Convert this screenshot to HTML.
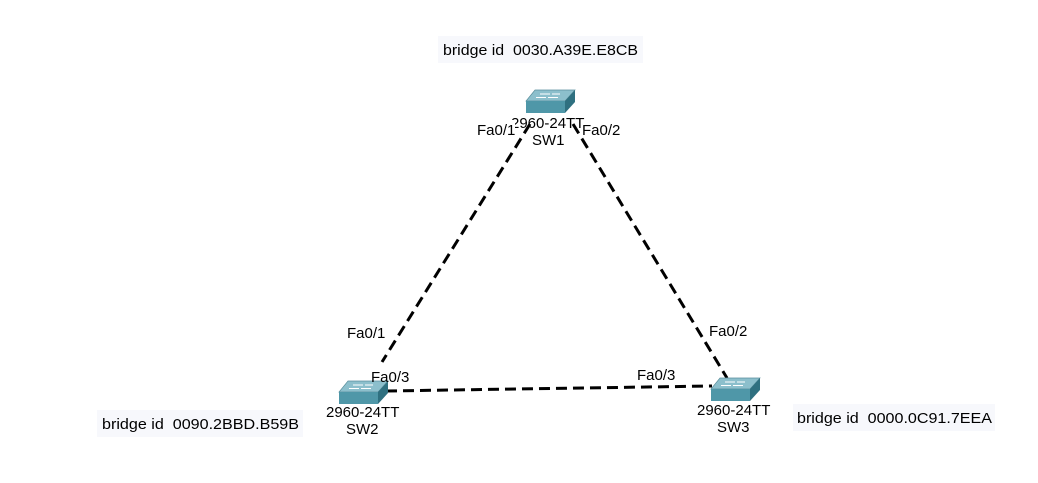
<!DOCTYPE html>
<html><head><meta charset="utf-8"><style>
html,body{margin:0;padding:0;background:#fff;width:1038px;height:483px;overflow:hidden}
svg text{font-family:"Liberation Sans",Arial,sans-serif;font-size:15px;fill:#000;white-space:pre}
</style></head><body>
<svg width="1038" height="483" viewBox="0 0 1038 483" xmlns="http://www.w3.org/2000/svg">
<defs>
<g id="sw">
  <polygon points="9,0 49,0 39,11 0,11" fill="#8cbfcc" stroke="#5a8f9c" stroke-width="0.7"/>
  <polygon points="0,11 39,11 39,23 0,23" fill="#4f97a8"/>
  <polygon points="39,11 49,0 49,12 39,23" fill="#2f7080"/>
  <line x1="14" y1="4" x2="24" y2="4" stroke="#fff" stroke-width="1"/>
  <line x1="26" y1="4" x2="34" y2="4" stroke="#fff" stroke-width="1"/>
  <line x1="10" y1="7.5" x2="20" y2="7.5" stroke="#fff" stroke-width="1"/>
  <line x1="22" y1="7.5" x2="32" y2="7.5" stroke="#fff" stroke-width="1"/>
</g>
</defs>
<rect x="438" y="36" width="205" height="27" fill="#f7f8fc"/>
<text x="443" y="55" textLength="195" lengthAdjust="spacingAndGlyphs">bridge id  0030.A39E.E8CB</text>
<rect x="97" y="410" width="206" height="27" fill="#f7f8fc"/>
<text x="102" y="429" textLength="197" lengthAdjust="spacingAndGlyphs">bridge id  0090.2BBD.B59B</text>
<rect x="793" y="404" width="202" height="27" fill="#f7f8fc"/>
<text x="797" y="423" textLength="195" lengthAdjust="spacingAndGlyphs">bridge id  0000.0C91.7EEA</text>
<g stroke="#000" stroke-width="3" stroke-dasharray="11,6" fill="none">
  <line x1="530" y1="124" x2="382" y2="362"/>
  <line x1="573" y1="124" x2="727" y2="378"/>
  <line x1="386" y1="391" x2="712" y2="386"/>
</g>
<use href="#sw" x="526" y="90"/>
<use href="#sw" x="339" y="381"/>
<use href="#sw" x="711" y="378"/>
<text x="511" y="128">2960-24TT</text>
<text x="532" y="145">SW1</text>
<rect x="475" y="120" width="40" height="18" fill="#fff"/>
<text x="477" y="135">Fa0/1</text>
<text x="582" y="135">Fa0/2</text>
<text x="326" y="417">2960-24TT</text>
<text x="346" y="434">SW2</text>
<text x="697" y="415">2960-24TT</text>
<text x="717" y="432">SW3</text>
<text x="347" y="338">Fa0/1</text>
<text x="371" y="382">Fa0/3</text>
<text x="637" y="380">Fa0/3</text>
<text x="709" y="336">Fa0/2</text>
</svg>
</body></html>
